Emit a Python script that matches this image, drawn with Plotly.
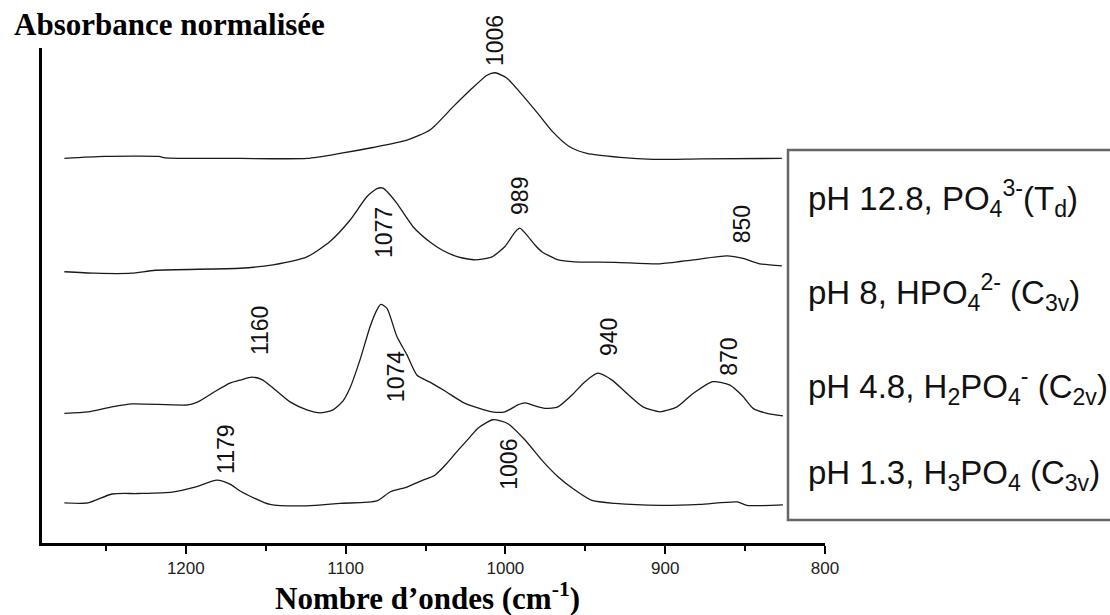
import plotly.graph_objects as go

# ---------------- data ----------------
# Wavenumbers (cm-1) and normalised absorbance above each spectrum's baseline
wn_pH128 = [1276, 1251, 1217, 1213, 1166, 1124, 1103.5, 1083, 1061.6, 1047, 1032.8, 1022,
            1011.5, 1006.5, 999, 991, 980, 970.2, 959.6, 949, 928.3, 907.6, 878, 827]
ab_pH128 = [0, 0.04, 0.04, 0.01, 0, 0, 0.10, 0.22, 0.37, 0.58, 1.04, 1.38,
            1.68, 1.73, 1.62, 1.34, 0.92, 0.53, 0.23, 0.10, 0.02, -0.02, -0.01, 0]

wn_pH8 = [1276, 1257, 1234, 1219, 1166, 1145.4, 1124.2, 1109.8, 1097.3, 1086.6, 1080.4, 1076.6,
          1074.1, 1067.9, 1057.8, 1047.2, 1039.7, 1029.7, 1019, 1008.4, 1000.3, 994, 991, 986.5,
          981.5, 977, 967, 956.5, 931.4, 903.3, 882.6, 861.3, 851.3, 840.7, 827]
ab_pH8 = [0, -0.03, -0.03, 0.03, 0.07, 0.14, 0.30, 0.61, 1.04, 1.52, 1.68, 1.69,
          1.62, 1.38, 0.91, 0.60, 0.44, 0.30, 0.24, 0.30, 0.51, 0.80, 0.88, 0.74,
          0.54, 0.40, 0.24, 0.20, 0.19, 0.16, 0.24, 0.32, 0.27, 0.16, 0.12]

wn_pH48 = [1276, 1261.2, 1246.2, 1233.7, 1198.6, 1192.4, 1181.8, 1172.4, 1166.1, 1158.6, 1152.3,
           1145.4, 1134.8, 1124.2, 1116, 1107.9, 1101.6, 1097.3, 1091, 1084.7, 1080.4, 1077.9,
           1074.1, 1067.9, 1061.6, 1055.3, 1047.2, 1037.8, 1025.3, 1008.4, 1000.3, 992.2, 987.7,
           983.4, 975.2, 967.1, 958.3, 950.2, 942.1, 933.3, 923.9, 913.9, 903.3, 892.6, 882.6,
           870.1, 859.5, 851.3, 845, 836.3, 826.3]
ab_pH48 = [0, 0.03, 0.13, 0.19, 0.17, 0.23, 0.44, 0.61, 0.67, 0.73, 0.68,
           0.51, 0.23, 0.07, 0.01, 0.07, 0.25, 0.51, 1.08, 1.75, 2.09, 2.20,
           2.12, 1.55, 1.18, 0.77, 0.63, 0.45, 0.20, 0.03, 0.03, 0.17, 0.21,
           0.17, 0.10, 0.13, 0.37, 0.64, 0.81, 0.67, 0.40, 0.13, 0.03, 0.13, 0.40,
           0.64, 0.57, 0.34, 0.10, 0.0, -0.05]

wn_pH13 = [1276, 1261.2, 1246.2, 1229.9, 1208.6, 1194.3, 1180.5, 1172.4, 1164.9, 1147.3, 1124.2,
           1103.5, 1080.4, 1072.2, 1061.6, 1051.6, 1044.1, 1036.6, 1029.7, 1022.2, 1017.2, 1007.8,
           998.4, 987.7, 977.1, 967.1, 956.5, 945.8, 931.4, 903.3, 878.2, 855, 848.8, 826.3]
ab_pH13 = [0, 0, 0.18, 0.19, 0.22, 0.32, 0.46, 0.38, 0.22, -0.03, -0.06,
           -0.01, 0.04, 0.22, 0.32, 0.46, 0.56, 0.80, 1.06, 1.33, 1.51, 1.68,
           1.60, 1.27, 0.86, 0.53, 0.26, 0.05, -0.01, -0.05, -0.03, 0.02, -0.05, -0.04]

series_wn = [wn_pH128, wn_pH8, wn_pH48, wn_pH13]
series_ab = [ab_pH128, ab_pH8, ab_pH48, ab_pH13]
series_offset = [7.77, 5.48, 2.62, 0.81]
series_names = [
    "pH 12.8, PO<sub>4</sub><sup>3-</sup>(T<sub>d</sub>)",
    "pH 8, HPO<sub>4</sub><sup>2-</sup> (C<sub>3v</sub>)",
    "pH 4.8, H<sub>2</sub>PO<sub>4</sub><sup>-</sup> (C<sub>2v</sub>)",
    "pH 1.3, H<sub>3</sub>PO<sub>4</sub> (C<sub>3v</sub>)",
]

# peak labels: (text, wavenumber, height in axis units)
peak_text = ["1006", "1077", "989", "850", "1160", "1074", "940", "870", "1179", "1006"]
peak_wn = [1006.5, 1076, 990.9, 851.9, 1153.6, 1068.5, 935.2, 860.1, 1174.9, 997.8]
peak_y = [10.14, 6.28, 7.01, 6.44, 4.30, 3.37, 4.16, 3.76, 1.90, 1.60]

tick_vals = [1200, 1100, 1000, 900, 800]
minor_vals = [1250, 1150, 1050, 950, 850]

Y_MAX = 10.0

# ---------------- figure ----------------
fig = go.Figure()
for wn, ab, off, name in zip(series_wn, series_ab, series_offset, series_names):
    fig.add_trace(go.Scatter(
        x=wn, y=[a + off for a in ab], mode="lines", name=name,
        line=dict(color="#1a1a1a", width=1.3, shape="spline", smoothing=0.6),
        showlegend=False, hoverinfo="x+y"))

# peak labels (x in data units; y converted to the plot-area fraction so labels
# above the top of the axis are still shown)
for t, xv, yv in zip(peak_text, peak_wn, peak_y):
    fig.add_annotation(x=xv, y=yv / Y_MAX, xref="x", yref="paper", text=t, textangle=-90,
                       showarrow=False, xanchor="center", yanchor="middle",
                       font=dict(family="Liberation Sans, Arial, sans-serif", size=23, color="#111"))

# legend box drawn as text inside a frame
legend_y_px = [198.5, 292, 386, 475]
for name, py in zip(series_names, legend_y_px):
    fig.add_annotation(x=(806 - 42) / 783, y=(543 - py) / 495, xref="paper", yref="paper",
                       text=name, showarrow=False, xanchor="left", yanchor="middle",
                       font=dict(family="Liberation Sans, Arial, sans-serif", size=33, color="#111"))
fig.add_shape(type="rect", xref="paper", yref="paper",
              x0=(788 - 42) / 783, x1=1.5, y0=(543 - 520) / 495, y1=(543 - 150) / 495,
              line=dict(color="#666", width=2.5), fillcolor="rgba(0,0,0,0)")

# axis titles
fig.add_annotation(x=-30 / 783, y=(543 - 25) / 495, xref="paper", yref="paper",
                   text="<b>Absorbance normalisée</b>", showarrow=False,
                   xanchor="left", yanchor="middle",
                   font=dict(family="Liberation Serif, Times New Roman, serif", size=31, color="#000"))
fig.add_annotation(x=(427 - 42) / 783, y=(543 - 596) / 495, xref="paper", yref="paper",
                   text="<b>Nombre d’ondes (cm<sup>-1</sup>)</b>", showarrow=False,
                   xanchor="center", yanchor="middle",
                   font=dict(family="Liberation Serif, Times New Roman, serif", size=31, color="#000"))

fig.update_layout(
    width=1110, height=615,
    margin=dict(l=42, r=285, t=48, b=72),
    paper_bgcolor="white", plot_bgcolor="white",
    xaxis=dict(range=[1290, 800], showgrid=False, zeroline=False,
               showline=True, linecolor="#000", linewidth=2.5,
               ticks="outside", ticklen=8, tickwidth=2, tickcolor="#000",
               tickvals=tick_vals, ticktext=[str(v) for v in tick_vals],
               tickfont=dict(family="Liberation Sans, Arial, sans-serif", size=17, color="#222"),
               minor=dict(tickvals=minor_vals, ticks="outside",
                          ticklen=5, tickwidth=2, tickcolor="#000")),
    yaxis=dict(range=[0, Y_MAX], showgrid=False, zeroline=False, showticklabels=False,
               showline=True, linecolor="#000", linewidth=2.5, ticks=""),
    showlegend=False,
)

fig.write_html("out.html")
